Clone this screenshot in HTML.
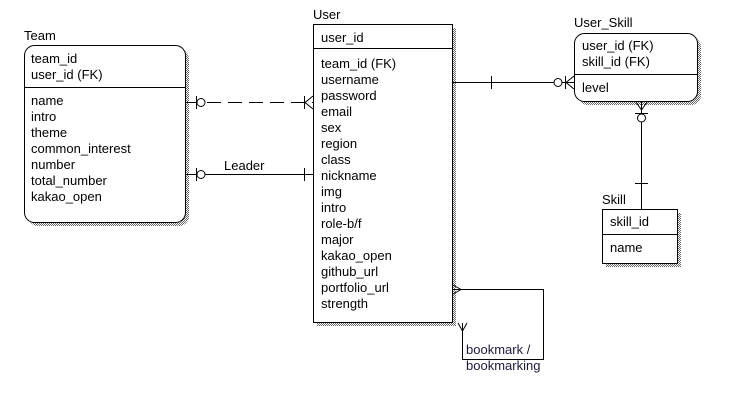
<!DOCTYPE html>
<html><head><meta charset="utf-8"><style>
body{margin:0;background:#fff;}
svg text{font-family:"Liberation Sans",Arial,sans-serif;font-size:13px;fill:#000;}
.t{fill:#1a1a3a}
</style></head><body>
<svg width="741" height="402" xmlns="http://www.w3.org/2000/svg">
<defs><pattern id="h" width="2" height="2" patternUnits="userSpaceOnUse"><rect width="2" height="2" fill="#fff"/><rect width="1" height="1" fill="#666"/><rect x="1" y="1" width="1" height="1" fill="#666"/></pattern></defs>
<!-- Team -->
<text x="24" y="40">Team</text>
<rect x="28" y="49" width="161" height="177" rx="10" fill="url(#h)"/>
<rect x="24.5" y="45.5" width="161" height="177" rx="10" fill="#fff" stroke="#000"/>
<line x1="24" y1="87.5" x2="185" y2="87.5" stroke="#000"/>
<g class="t"><text x="31" y="63">team_id</text><text x="31" y="79">user_id (FK)</text>
<text x="31" y="105">name</text><text x="31" y="121">intro</text><text x="31" y="137">theme</text><text x="31" y="153">common_interest</text><text x="31" y="169">number</text><text x="31" y="185">total_number</text><text x="31" y="201">kakao_open</text></g>
<!-- User -->
<text x="313" y="19">User</text>
<rect x="317" y="28" width="139" height="298" fill="url(#h)"/>
<rect x="313.5" y="24.5" width="139" height="298" fill="#fff" stroke="#000"/>
<line x1="313" y1="48.5" x2="452" y2="48.5" stroke="#000"/>
<g class="t"><text x="321" y="42">user_id</text>
<text x="321" y="68">team_id (FK)</text><text x="321" y="84">username</text><text x="321" y="100">password</text><text x="321" y="116">email</text><text x="321" y="132">sex</text><text x="321" y="148">region</text><text x="321" y="164">class</text><text x="321" y="180">nickname</text><text x="321" y="196">img</text><text x="321" y="212">intro</text><text x="321" y="228">role-b/f</text><text x="321" y="244">major</text><text x="321" y="260">kakao_open</text><text x="321" y="276">github_url</text><text x="321" y="292">portfolio_url</text><text x="321" y="308">strength</text></g>
<!-- User_Skill -->
<text x="574" y="27">User_Skill</text>
<rect x="578" y="37" width="123" height="68" rx="10" fill="url(#h)"/>
<rect x="574.5" y="33.5" width="123" height="68" rx="10" fill="#fff" stroke="#000"/>
<line x1="574" y1="74.5" x2="697" y2="74.5" stroke="#000"/>
<g class="t"><text x="582" y="50">user_id (FK)</text><text x="582" y="66">skill_id (FK)</text><text x="582" y="92">level</text></g>
<!-- Skill -->
<text x="602" y="204">Skill</text>
<rect x="606" y="213" width="75" height="54" fill="url(#h)"/>
<rect x="602.5" y="209.5" width="75" height="54" fill="#fff" stroke="#000"/>
<line x1="602" y1="234.5" x2="677" y2="234.5" stroke="#000"/>
<g class="t"><text x="610" y="226">skill_id</text><text x="610" y="252">name</text></g>
<!-- connectors -->
<g stroke="#000" fill="none">
<line x1="186" y1="102.5" x2="313" y2="102.5" stroke-dasharray="14,7"/>
<line x1="196.5" y1="96" x2="196.5" y2="109"/><circle cx="201" cy="102.5" r="4" fill="#fff"/>
<line x1="304.5" y1="96" x2="304.5" y2="109"/><polyline points="313,96 305,102.5 313,109"/>
<line x1="186" y1="174.5" x2="313" y2="174.5"/>
<line x1="196.5" y1="168" x2="196.5" y2="181"/><circle cx="201" cy="174.5" r="4" fill="#fff"/>
<line x1="304.5" y1="168" x2="304.5" y2="181"/>
<line x1="453" y1="82.5" x2="574" y2="82.5"/>
<line x1="491.5" y1="76" x2="491.5" y2="89"/>
<circle cx="558" cy="82.5" r="4" fill="#fff"/><line x1="565.5" y1="76" x2="565.5" y2="89"/>
<polyline points="574,76 566,82.5 574,89"/>
<line x1="641.5" y1="102" x2="641.5" y2="209"/>
<polyline points="636,102 641.5,110 647,102"/>
<line x1="635" y1="113.5" x2="648" y2="113.5"/><circle cx="641.5" cy="118" r="4" fill="#fff"/>
<line x1="635" y1="183.5" x2="648" y2="183.5"/>
<polyline points="453,289.5 543.5,289.5 543.5,359.5 462.5,359.5 462.5,323"/>
<polyline points="453,285 461,289.5 453,294"/>
<polyline points="458,323 462.5,331 467,323"/>
</g>
<text x="224" y="170">Leader</text>
<text x="466" y="354" class="t">bookmark /</text>
<text x="466" y="370" class="t">bookmarking</text>
</svg>
</body></html>
